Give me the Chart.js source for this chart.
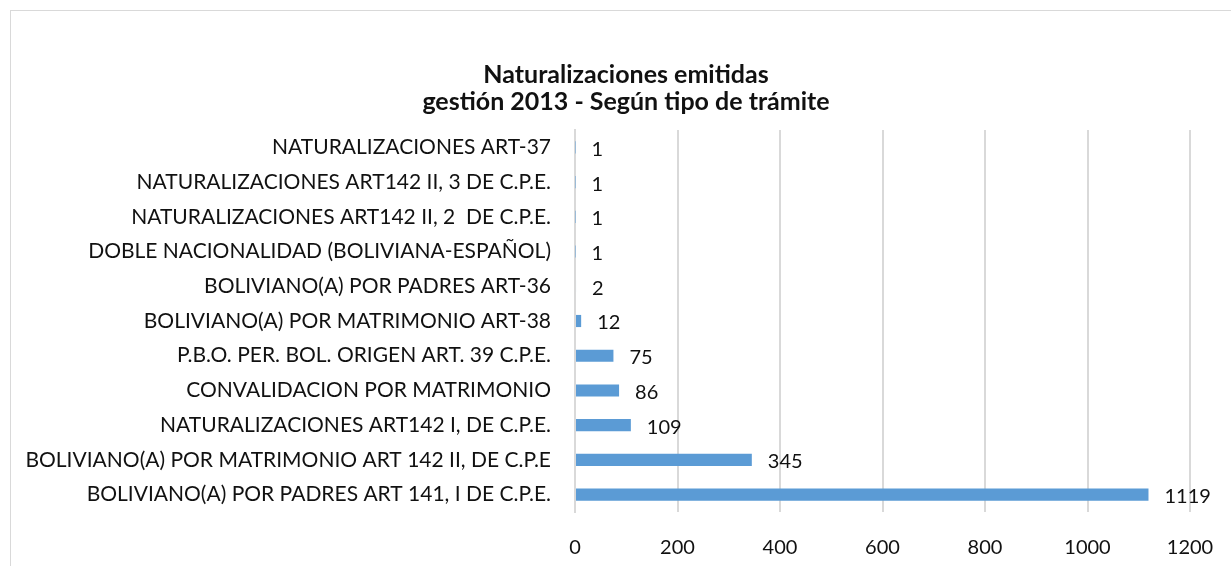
<!DOCTYPE html>
<html>
<head>
<meta charset="utf-8">
<script src="https://cdn.jsdelivr.net/npm/chart.js@4.4.1/dist/chart.umd.min.js"></script>
<style>
  html, body { margin: 0; padding: 0; background: #fff; overflow: hidden; }
  #wrap { position: relative; width: 1231px; height: 566px; }
  #frame { position: absolute; left: 10px; top: 10px; width: 1400px; height: 800px; border: 1px solid #d9d9d9; }
  #chart { position: absolute; left: 0; top: 0; }
</style>
</head>
<body>
<div id="wrap">
  <div id="frame"></div>
  <canvas id="chart" width="1231" height="566"></canvas>
</div>
<script>
// ---- DATA ----
const categories = [
  'NATURALIZACIONES ART-37',
  'NATURALIZACIONES ART142 II, 3 DE C.P.E.',
  'NATURALIZACIONES ART142 II, 2  DE C.P.E.',
  'DOBLE NACIONALIDAD (BOLIVIANA-ESPAÑOL)',
  'BOLIVIANO(A) POR PADRES ART-36',
  'BOLIVIANO(A) POR MATRIMONIO ART-38',
  'P.B.O. PER. BOL. ORIGEN ART. 39 C.P.E.',
  'CONVALIDACION POR MATRIMONIO',
  'NATURALIZACIONES ART142 I, DE C.P.E.',
  'BOLIVIANO(A) POR MATRIMONIO ART 142 II, DE C.P.E',
  'BOLIVIANO(A) POR PADRES ART 141, I DE C.P.E.'
];
const values = [1, 1, 1, 1, 2, 12, 75, 86, 109, 345, 1119];
const xTicks = [0, 200, 400, 600, 800, 1000, 1200];
const titleLines = ['Naturalizaciones emitidas', 'gestión 2013 - Según tipo de trámite'];

const FONT = 'Lato, "Open Sans", sans-serif';
const TEXT = '#111';
const GRID = '#d9d9d9';

// title: centred on the whole (wider) chart frame, not on the canvas
const chartTitle = {
  id: 'chartTitle',
  afterDraw(chart) {
    const ctx = chart.ctx;
    ctx.save();
    ctx.font = 'bold 25px ' + FONT;
    ctx.fillStyle = TEXT;
    ctx.textAlign = 'center';
    ctx.textBaseline = 'middle';
    titleLines.forEach((t, i) => ctx.fillText(t, 626, 75 + i * 27));
    ctx.restore();
  }
};

// value labels at the end of each bar
const valueLabels = {
  id: 'valueLabels',
  afterDatasetsDraw(chart) {
    const ctx = chart.ctx;
    const meta = chart.getDatasetMeta(0);
    ctx.save();
    ctx.font = '20px ' + FONT;
    ctx.fillStyle = TEXT;
    ctx.textAlign = 'left';
    ctx.textBaseline = 'middle';
    meta.data.forEach((bar, i) => {
      ctx.fillText(String(values[i]), bar.x + 16, bar.y + 2);
    });
    ctx.restore();
  }
};

new Chart(document.getElementById('chart'), {
  type: 'bar',
  data: {
    labels: categories,
    datasets: [{
      data: values,
      backgroundColor: '#5b9bd5',
      borderWidth: 0,
      categoryPercentage: 0.5,
      barPercentage: 0.7
    }]
  },
  options: {
    indexAxis: 'y',
    responsive: false,
    animation: false,
    layout: { padding: { left: 0, right: 41, top: 130, bottom: 0 } },
    plugins: {
      legend: { display: false },
      tooltip: { enabled: false },
      title: { display: false }
    },
    scales: {
      x: {
        min: 0,
        max: 1200,
        afterBuildTicks: s => { s.ticks = xTicks.map(v => ({ value: v })); },
        grid: { color: GRID, lineWidth: 2, drawTicks: false },
        border: { display: false },
        ticks: { color: TEXT, font: { family: FONT, size: 20 }, padding: 24, callback: v => String(v) },
        afterFit: s => { s.height = 54; s.paddingLeft = 0; s.paddingRight = 0; }
      },
      y: {
        grid: { display: false, drawTicks: false },
        border: { display: true, color: GRID, width: 2 },
        ticks: { color: TEXT, font: { family: FONT, size: 21 }, padding: 24, autoSkip: false },
        afterFit: s => { s.width = 575; s.paddingTop = 0; s.paddingBottom = 0; }
      }
    }
  },
  plugins: [valueLabels, chartTitle]
});
</script>
</body>
</html>
